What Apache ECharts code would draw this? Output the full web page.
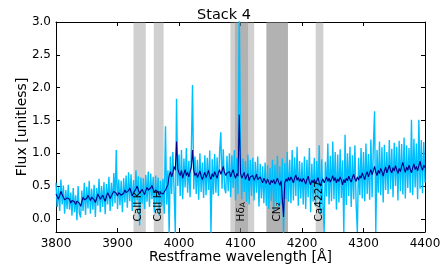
<!DOCTYPE html>
<html><head><meta charset="utf-8">
<script src="https://cdn.jsdelivr.net/npm/echarts@6/dist/echarts.min.js"></script>
<style>html,body{margin:0;padding:0;background:#fff}#c{width:448px;height:269px}</style>
</head><body><div id="c"></div>
<script>
const wlStart = 3800, wlStep = 2;
const fluxRaw = [
0.55,0.18,0.48,0.12,0.60,0.22,0.51,0.08,0.44,0.15,
0.52,0.14,0.40,0.05,0.47,0.10,0.36,-0.02,0.50,0.09,
0.02,0.43,0.12,0.55,0.06,0.49,0.16,0.58,0.08,0.46,
0.14,0.52,0.03,0.47,0.20,0.61,0.10,0.50,0.18,0.56,
0.07,0.53,0.22,0.64,0.12,0.55,0.19,0.70,0.24,1.05,
0.15,0.60,0.21,0.58,0.10,0.62,0.25,0.66,0.17,0.71,
0.27,0.68,0.12,0.59,0.20,0.74,0.28,0.65,-0.10,0.63,
0.23,0.62,0.15,0.67,0.26,0.72,0.18,0.69,0.30,0.64,
0.10,0.66,0.24,0.63,0.05,0.58,0.19,0.61,0.08,1.41,
0.22,0.74,-0.22,0.95,0.38,1.02,0.45,-0.22,1.83,0.50,
0.98,0.35,1.05,0.30,0.92,0.48,1.08,0.40,0.88,0.33,
1.02,2.04,0.45,0.95,0.38,0.90,0.29,1.00,0.41,0.86,
0.32,0.97,0.36,0.93,0.44,1.04,-0.22,0.91,0.37,0.99,
0.40,0.94,0.35,1.02,1.32,0.46,1.06,0.48,0.39,0.96,
0.42,1.00,0.33,0.97,0.47,1.05,0.28,0.93,0.38,3.30,
0.95,0.30,0.92,0.41,0.88,0.26,0.98,0.22,0.90,0.35,
0.93,0.28,0.87,0.40,0.95,0.19,0.84,0.31,0.80,0.24,
0.86,0.20,0.82,0.15,0.78,0.27,0.90,0.12,0.83,0.25,
0.96,0.18,0.80,0.22,0.92,-0.22,0.85,0.30,1.02,0.26,
0.90,0.24,1.05,0.28,0.94,0.35,1.10,0.20,0.88,0.31,
0.86,0.22,0.95,0.15,0.90,0.33,1.08,0.10,0.84,0.26,
0.93,0.19,0.88,0.30,1.12,0.08,0.91,0.24,-0.20,0.87,
0.34,1.15,0.22,0.96,0.27,1.18,0.30,1.02,0.14,0.98,
0.25,1.06,0.32,0.89,-0.20,1.28,0.21,1.00,0.35,1.10,
0.18,0.97,0.30,1.12,0.24,-0.20,0.93,0.36,1.08,0.31,
1.02,0.27,1.15,0.38,0.99,0.29,1.21,0.33,1.10,1.64,
-0.20,1.05,0.40,1.18,0.36,1.09,0.25,1.13,0.44,1.02,
0.38,1.20,0.45,1.07,0.33,1.16,0.50,1.10,0.28,1.19,
0.42,1.14,0.37,1.24,0.31,1.12,0.47,1.08,0.40,1.51,
0.36,1.22,0.48,1.15,0.30,1.51,0.46,1.20,0.39,1.17,
0.55];
const fluxSmooth = [
0.38,0.34,0.30,0.36,0.42,0.37,0.33,0.29,0.27,0.32,
0.35,0.30,0.24,0.28,0.31,0.26,0.22,0.27,0.29,0.24,
0.19,0.26,0.33,0.29,0.26,0.31,0.36,0.32,0.28,0.33,
0.34,0.29,0.25,0.31,0.38,0.34,0.30,0.33,0.36,0.31,
0.27,0.34,0.40,0.36,0.31,0.35,0.37,0.42,0.45,0.39,
0.35,0.40,0.41,0.36,0.33,0.39,0.44,0.40,0.38,0.43,
0.47,0.41,0.35,0.39,0.42,0.46,0.50,0.44,0.39,0.42,
0.45,0.41,0.37,0.43,0.48,0.44,0.42,0.47,0.51,0.45,
0.40,0.44,0.46,0.41,0.36,0.40,0.43,0.38,0.39,0.44,
0.47,0.52,0.66,0.72,0.64,0.70,0.80,0.74,1.18,0.76,
0.70,0.66,0.74,0.62,0.69,0.75,0.66,0.71,0.64,0.72,
0.78,1.05,0.74,0.66,0.70,0.63,0.68,0.73,0.65,0.60,
0.66,0.71,0.63,0.68,0.74,0.65,0.60,0.69,0.64,0.72,
0.67,0.62,0.70,0.75,0.68,0.73,0.80,0.71,0.66,0.70,
0.68,0.72,0.64,0.70,0.75,0.67,0.62,0.69,0.65,1.59,
0.70,0.62,0.66,0.71,0.60,0.65,0.69,0.58,0.64,0.61,
0.66,0.59,0.63,0.68,0.60,0.57,0.64,0.59,0.55,0.62,
0.58,0.54,0.61,0.56,0.52,0.59,0.55,0.60,0.53,0.57,
0.62,0.56,0.51,0.58,0.60,0.03,0.55,0.61,0.57,0.63,
0.58,0.64,0.60,0.55,0.62,0.67,0.59,0.63,0.57,0.61,
0.56,0.62,0.58,0.53,0.60,0.65,0.57,0.52,0.59,0.55,
0.60,0.54,0.58,0.63,0.56,0.50,0.57,0.61,0.55,0.59,
0.64,0.57,0.62,0.56,0.60,0.66,0.58,0.63,0.55,0.61,
0.57,0.64,0.59,0.52,0.60,0.55,0.62,0.58,0.65,0.60,
0.56,0.63,0.68,0.61,0.57,0.64,0.59,0.66,0.62,0.70,
0.65,0.60,0.68,0.72,0.64,0.70,0.75,0.67,0.73,0.80,
0.71,0.66,0.74,0.69,0.77,0.72,0.65,0.73,0.79,0.70,
0.76,0.82,0.74,0.70,0.78,0.73,0.81,0.75,0.69,0.77,
0.72,0.80,0.86,0.77,0.71,0.79,0.74,0.82,0.76,0.70,
0.78,0.84,0.75,0.80,0.73,0.81,0.88,0.79,0.74,0.82,
0.78];
const bandRanges = [[3926,3946],[3959,3975],[4083.5,4122.25],[4091,4112.25],[4142.125,4177.125],[4142.125,4177.125],[4222.25,4234.75]];
const bandLabels = ['CaII K','CaII H','{m|Hδ}{s|A}','CN₂','Ca4227'];
const labelWl = [3933,3967,4101,4159,4228];
const labelY = -0.04;
const yTicks = [0,0.5,1,1.5,2,2.5,3];

const F = 'DejaVu Sans';
const rawPts = fluxRaw.map((v,i)=>[wlStart+wlStep*i, v]);
const smPts = fluxSmooth.map((v,i)=>[wlStart+wlStep*i, v]);
const xBase = {type:'value', min:3800, max:4400, interval:100, splitLine:{show:false},
  axisLine:{onZero:false,lineStyle:{color:'#000',width:1}}, axisTick:{inside:true,length:4,lineStyle:{color:'#000'}}};
const yBase = {type:'value', min:-0.2, max:3.0, splitLine:{show:false},
  axisLine:{show:true,onZero:false,lineStyle:{color:'#000',width:1}},
  axisTick:{show:true,inside:true,length:4,customValues:yTicks,lineStyle:{color:'#000'}}};
const chart = echarts.init(document.getElementById('c'), null, {renderer:'canvas'});
chart.setOption({
  animation:false,
  title:{text:'Stack 4', left:'center', top:3, textStyle:{fontFamily:F,fontSize:14.5,fontWeight:'normal',color:'#000'}},
  grid:{left:56, right:23, top:22, bottom:37},
  xAxis:[
    Object.assign({}, xBase, {position:'bottom', name:'Restframe wavelength [Å]', nameLocation:'middle', nameGap:18, nameMoveOverlap:false,
      nameTextStyle:{fontFamily:F,fontSize:14,color:'#000'},
      axisLabel:{fontFamily:F,fontSize:12,color:'#000',margin:6,formatter:v=>String(v)}}),
    Object.assign({}, xBase, {position:'top', axisLabel:{show:false}})
  ],
  yAxis:[
    Object.assign({}, yBase, {position:'left', name:'Flux [unitless]', nameLocation:'middle', nameGap:27, nameRotate:90, nameMoveOverlap:false,
      nameTextStyle:{fontFamily:F,fontSize:14,color:'#000'},
      axisLabel:{fontFamily:F,fontSize:12,color:'#000',margin:5,customValues:yTicks,formatter:v=>v.toFixed(1)}}),
    Object.assign({}, yBase, {position:'right', axisLabel:{show:false}})
  ],
  series:[
    {type:'line', data:[], silent:true, z:1,
     markArea:{silent:true, itemStyle:{color:'rgba(128,128,128,0.37)'}, label:{show:false},
       data: bandRanges.map(r=>[{xAxis:r[0]},{xAxis:r[1]}])}},
    {type:'line', data:rawPts, showSymbol:false, symbol:'none', z:2, clip:true,
     lineStyle:{color:'#00bfff', width:1.4}, itemStyle:{color:'#00bfff'}},
    {type:'line', data:smPts, showSymbol:false, symbol:'none', z:3, clip:true,
     lineStyle:{color:'#00008b', width:1.1}, itemStyle:{color:'#00008b'}}
  ]
});
// band labels placed through the axes' own scales
const rich = {m:{fontFamily:F,fontSize:10.5,fill:'#000'}, s:{fontFamily:F,fontSize:7.5,fill:'#000',padding:[4,0,0,0]}};
chart.setOption({
  graphic: labelWl.map((w,i)=>{
    const p = chart.convertToPixel({xAxisIndex:0,yAxisIndex:0},[w,labelY]);
    return {type:'text', x:p[0], y:p[1], rotation:Math.PI/2, z:100, silent:true,
      style:{text:bandLabels[i], fontFamily:F, fontSize:10.5, fill:'#000', align:'left', verticalAlign:'middle', rich:rich}};
  })
});
</script></body></html>
